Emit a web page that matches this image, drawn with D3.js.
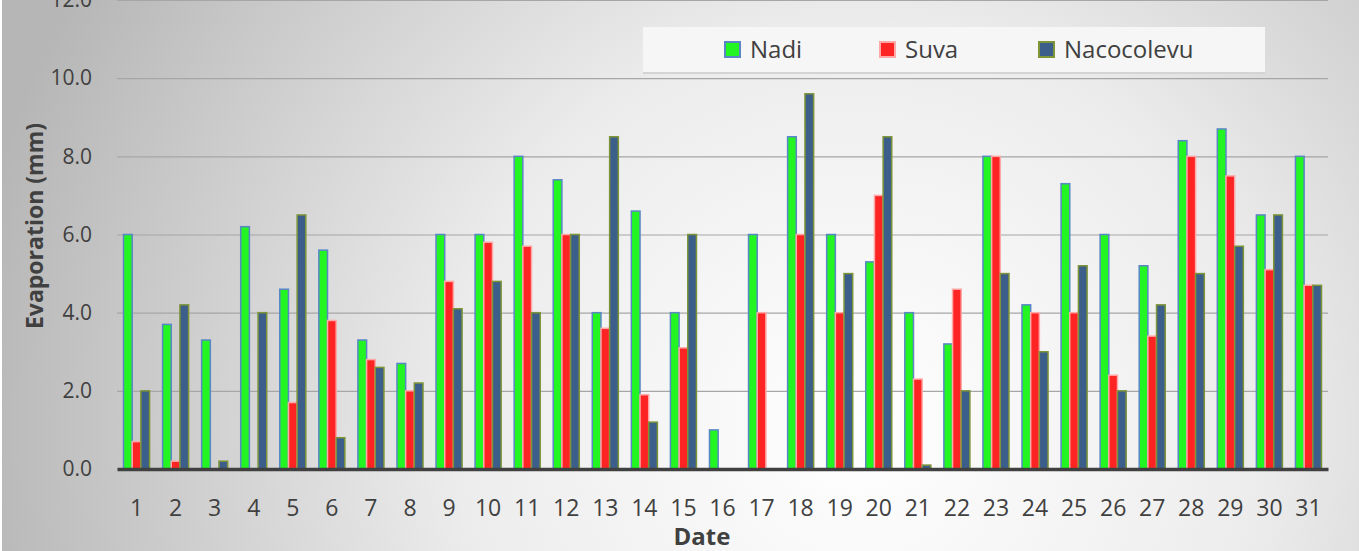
<!DOCTYPE html>
<html>
<head>
<meta charset="utf-8">
<script src="https://cdn.jsdelivr.net/npm/d3@7"></script>
<style>
  html, body { margin: 0; padding: 0; background: #fff; }
  svg { display: block; }
</style>
</head>
<body>
<div id="chart"></div>
<script>
var dates = d3.range(1, 32).map(String);
var seriesNames = ["Nadi", "Suva", "Nacocolevu"];
var nadi = [6.0, 3.7, 3.3, 6.2, 4.6, 5.6, 3.3, 2.7, 6.0, 6.0, 8.0, 7.4, 4.0, 6.6, 4.0, 1.0,
            6.0, 8.5, 6.0, 5.3, 4.0, 3.2, 8.0, 4.2, 7.3, 6.0, 5.2, 8.4, 8.7, 6.5, 8.0];
var suva = [0.7, 0.2, 0, 0, 1.7, 3.8, 2.8, 2.0, 4.8, 5.8, 5.7, 6.0, 3.6, 1.9, 3.1, 0,
            4.0, 6.0, 4.0, 7.0, 2.3, 4.6, 8.0, 4.0, 4.0, 2.4, 3.4, 8.0, 7.5, 5.1, 4.7];
var nacocolevu = [2.0, 4.2, 0.2, 4.0, 6.5, 0.8, 2.6, 2.2, 4.1, 4.8, 4.0, 6.0, 8.5, 1.2, 6.0, 0,
                  0, 9.6, 5.0, 8.5, 0.1, 2.0, 5.0, 3.0, 5.2, 2.0, 4.2, 5.0, 5.7, 6.5, 4.7];
var yTicks = [0, 2, 4, 6, 8, 10, 12];

var fills = { "Nadi": "#22f522", "Suva": "#ff2424", "Nacocolevu": "#3c5e8b" };
var strokes = { "Nadi": "#5a86c6", "Suva": "#ffa8a8", "Nacocolevu": "#7d9437" };
var values = { "Nadi": nadi, "Suva": suva, "Nacocolevu": nacocolevu };

var W = 1359, H = 551;
var margin = { top: 0, right: 31, bottom: 82, left: 117 };
var width = W - margin.left - margin.right,
    height = H - margin.top - margin.bottom;

var svg = d3.select("#chart").append("svg")
    .attr("width", W).attr("height", H);

// background gradient
var defs = svg.append("defs");
var grad = defs.append("radialGradient")
    .attr("id", "bg")
    .attr("gradientUnits", "userSpaceOnUse")
    .attr("cx", 860).attr("cy", 430).attr("r", 900);
grad.append("stop").attr("offset", "0%").attr("stop-color", "#ffffff");
grad.append("stop").attr("offset", "45%").attr("stop-color", "#ececec");
grad.append("stop").attr("offset", "100%").attr("stop-color", "#b6b6b6");
svg.append("rect").attr("x", 2).attr("y", 0).attr("width", W - 2).attr("height", H)
    .attr("fill", "url(#bg)");

var chart = svg.append("g")
    .attr("transform", "translate(" + margin.left + "," + margin.top + ")");

var y = d3.scaleLinear().domain([0, 12]).range([height, 0]);
var x0 = d3.scaleBand().domain(dates).range([0, width]).padding(0);
var x1 = d3.scaleBand().domain(seriesNames).range([0, x0.bandwidth()])
    .paddingInner(0).paddingOuter(0.75);

// gridlines
chart.append("g")
    .call(d3.axisLeft(y).tickValues(yTicks).tickSize(-width).tickFormat(""))
    .call(function (g) { g.select(".domain").remove(); })
    .selectAll("line")
    .attr("stroke", "#a6a6a6").attr("stroke-width", 1.2);

// y labels
chart.append("g")
    .call(d3.axisLeft(y).tickValues(yTicks).tickSize(0).tickPadding(25).tickFormat(d3.format(".1f")))
    .call(function (g) { g.select(".domain").remove(); })
    .selectAll("text")
    .attr("fill", "#404040")
    .style("font-family", "Open Sans")
    .style("font-size", "21px");

// bars
var groups = chart.selectAll(".day")
    .data(dates)
    .enter().append("g")
    .attr("class", "day")
    .attr("transform", function (d) { return "translate(" + x0(d) + ",0)"; });

groups.selectAll("rect")
    .data(function (d, i) {
        return seriesNames.map(function (s) { return { key: s, value: values[s][i] }; });
    })
    .enter().append("rect")
    .filter(function (d) { return d.value > 0; })
    .attr("x", function (d) { return x1(d.key); })
    .attr("y", function (d) { return y(d.value); })
    .attr("width", x1.bandwidth())
    .attr("height", function (d) { return height - y(d.value); })
    .attr("fill", function (d) { return fills[d.key]; })
    .attr("stroke", function (d) { return strokes[d.key]; })
    .attr("stroke-width", 1.5);

// x axis
var xAxis = chart.append("g")
    .attr("transform", "translate(0," + height + ")")
    .call(d3.axisBottom(x0).tickSize(0).tickPadding(31));
xAxis.select(".domain").attr("stroke", "#404040").attr("stroke-width", 3.5);
xAxis.selectAll("text")
    .attr("fill", "#404040")
    .style("font-family", "Open Sans")
    .style("font-size", "23px");

// axis titles
svg.append("text")
    .attr("transform", "translate(43,226) rotate(-90)")
    .attr("text-anchor", "middle")
    .attr("fill", "#404040")
    .style("font-family", "Open Sans")
    .style("font-weight", "bold")
    .style("font-size", "23px")
    .text("Evaporation (mm)");

svg.append("text")
    .attr("x", 702).attr("y", 545)
    .attr("text-anchor", "middle")
    .attr("fill", "#404040")
    .style("font-family", "Open Sans")
    .style("font-weight", "bold")
    .style("font-size", "24px")
    .text("Date");

// legend
var legend = svg.append("g");
legend.append("rect").attr("x", 643).attr("y", 29).attr("width", 622).attr("height", 45)
    .attr("fill", "#d4d4d4");
legend.append("rect").attr("x", 643).attr("y", 27).attr("width", 622).attr("height", 45)
    .attr("fill", "#f6f6f6");
var legX = [725, 880, 1039];
seriesNames.forEach(function (s, i) {
    legend.append("rect")
        .attr("x", legX[i]).attr("y", 42).attr("width", 15).attr("height", 15)
        .attr("fill", fills[s]).attr("stroke", strokes[s]).attr("stroke-width", 2);
    legend.append("text")
        .attr("x", legX[i] + 25).attr("y", 58)
        .attr("fill", "#404040")
        .style("font-family", "Open Sans")
        .style("font-size", "24px")
        .text(s);
});
</script>
</body>
</html>
